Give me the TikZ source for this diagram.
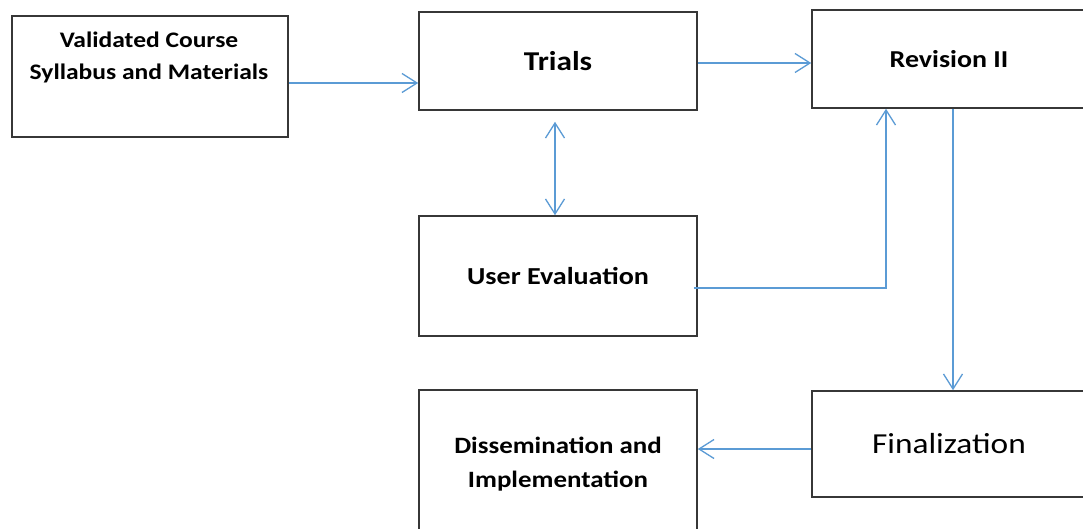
\documentclass[tikz,border=0pt]{standalone}
\usepackage{fontspec}
\setmainfont{Carlito}[FakeStretch=1.15]
\usepackage{tikz}
\usetikzlibrary{arrows.meta}
\definecolor{linkblue}{RGB}{91,155,213}
\definecolor{boxgray}{RGB}{55,55,55}

\begin{document}
\begin{tikzpicture}[x=1pt, y=-1pt,
  >={Straight Barb[length=15pt,width=19pt]},
  box/.style={draw=boxgray, line width=1.6pt, rectangle, align=center, inner sep=0pt},
  link/.style={draw=linkblue, line width=1.3pt, ->}]
\clip (0,0) rectangle (1083,529);
\fill[white] (0,0) rectangle (1083,529);
% boxes
\node[box, minimum width=276pt, minimum height=121pt] (syll) at (150,76.5) {};
\node[align=center, font=\fontsize{22.2}{32}\selectfont\bfseries] (syll-t) at (149,57) {Validated Course\\Syllabus and Materials};
\node[box, minimum width=278pt, minimum height=98pt, font=\fontsize{27.2}{34}\selectfont\bfseries] (trials) at (558,61) {Trials};
\node[box, minimum width=274pt, minimum height=98pt, font=\fontsize{24.3}{30}\selectfont\bfseries] (rev) at (949,59) {Revision II};
\node[box, minimum width=278pt, minimum height=120pt, font=\fontsize{24.4}{30}\selectfont\bfseries] (user) at (558,276) {User Evaluation};
\node[box, minimum width=274pt, minimum height=106pt, font=\fontsize{29}{34}\selectfont] (final) at (949,444) {Finalization};
\node[box, minimum width=278pt, minimum height=148pt, font=\fontsize{23.4}{34}\selectfont\bfseries] (dissem) at (558,464) {Dissemination and\\Implementation};
% connectors
\coordinate (a1) at ([yshift=-6.5pt]syll.east);
\draw[link] (a1) -- (a1 -| trials.west);
\coordinate (a2) at ([yshift=-2pt]trials.east);
\draw[link] (a2) -- (a2 -| rev.west);
\draw[link, <->] ([xshift=-3pt, yshift=-11pt]trials.south) -- ([xshift=-3pt]user.north);
\draw[link] ([xshift=-4pt, yshift=-12pt]user.east) -| ([xshift=-63pt]rev.south);
\draw[link] ([xshift=4pt]rev.south) -- ([xshift=4pt]final.north);
\coordinate (a3) at ([yshift=-5pt]final.west);
\draw[link] (a3) -- (a3 -| dissem.east);
\end{tikzpicture}
\end{document}
